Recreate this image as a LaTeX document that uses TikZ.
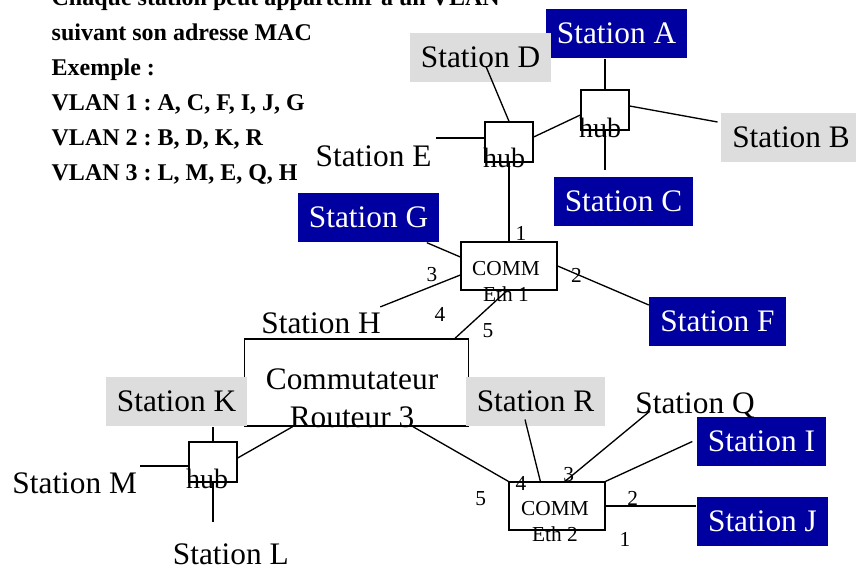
\documentclass[tikz,border=0pt]{standalone}
\usepackage{fontspec}
\setmainfont{Liberation Serif}
\usetikzlibrary{calc}
\definecolor{vlanblue}{RGB}{0,0,160}
\definecolor{vlangray}{RGB}{221,221,221}

\begin{document}
\frenchspacing
\begin{tikzpicture}[x=0.75pt, y=-0.75pt, line width=1pt,
  stablue/.style={fill=vlanblue, text=white, inner xsep=8.25pt, minimum height=36.75pt, font=\fontsize{23.5}{28}\selectfont},
  stagray/.style={fill=vlangray, inner xsep=8.25pt, minimum height=36.75pt, font=\fontsize{23.5}{28}\selectfont},
  staplain/.style={inner sep=0pt, anchor=base, font=\fontsize{23.5}{28}\selectfont},
  hubbox/.style={draw, fill=white, minimum width=36pt, minimum height=30pt, inner sep=0pt},
  hubtxt/.style={inner sep=0pt, font=\fontsize{21}{25}\selectfont},
  commbox/.style={draw, fill=white, minimum width=72pt, minimum height=36pt, inner sep=0pt},
  commtxt/.style={inner sep=0pt, align=center, font=\fontsize{16}{19.3}\selectfont},
  port/.style={inner sep=0pt, font=\fontsize{16}{19}\selectfont}]
  \useasboundingbox (0,0) rectangle (856,569);
  \clip (0,0) rectangle (856,569);

  % 说明文字
  \node[anchor=north west, align=left, inner sep=0pt, font=\bfseries\fontsize{18}{26.25}\selectfont\frenchspacing] (legend) at (51,-11.5)
    {Chaque station peut appartenir à un VLAN\\suivant son adresse MAC\\Exemple :\\VLAN 1 : A, C, F, I, J, G\\VLAN 2 : B, D, K, R\\VLAN 3 : L, M, E, Q, H};

  % 路由交换机
  \node[draw, fill=white, minimum width=168pt, minimum height=65.25pt, inner sep=0pt] (rout) at (356.3,382.5) {};

  % 各站点
  \node[stablue] (staA) at (616.5,33.5) {Station A};
  \node[stagray] (staB) at (791,137.5) {Station B};
  \node[stablue] (staC) at (623.5,201.5) {Station C};
  \node[stagray] (staD) at (480.5,57.5) {Station D};
  \node[staplain] (staE) at (373.5,166.7) {Station E};
  \node[stablue] (staF) at (717.5,321.5) {Station F};
  \node[stablue] (staG) at (368.5,217.5) {Station G};
  \node[staplain] (staH) at (321,333.3) {Station H};
  \node[stablue] (staI) at (761.5,441.5) {Station I};
  \node[stablue] (staJ) at (762.5,521.5) {Station J};
  \node[stagray] (staK) at (176.5,401.5) {Station K};
  \node[staplain] (staL) at (230.8,564) {Station L};
  \node[staplain] (staM) at (74.7,493.3) {Station M};
  \node[staplain] (staQ) at (695,413.3) {Station Q};
  \node[stagray] (staR) at (535.5,401.5) {Station R};

  % 集线器与交换机
  \node[hubbox] (hubL) at (509,142) {};
  \node[hubbox] (hubR) at (605,110) {};
  \node[hubbox] (hubM) at (213,462) {};
  \node[commbox] (sw1) at (509,266) {};
  \node[commbox] (sw2) at (557,506) {};

  % 上方两个集线器
  \draw (hubR.north) -- (hubR.north |- staA.south);
  \draw ($(hubR.east)+(0,-4)$) -- ($(staB.west)+(-3,-15.5)$);
  \draw (hubR.south) -- ($(hubR.south |- staC.north)+(0,-6)$);
  \draw ($(hubL.east)+(0,-5)$) -- ($(hubR.west)+(0,5)$);
  \draw ($(staD.center)+(5.5,9)$) -- (hubL.north);
  \draw ($(hubL.west)+(0,-4)$) -- ($(staE.east |- hubL.west)+(4,-4)$);
  \draw (hubL.south) -- (sw1.north);

  % COMM Eth 1
  \draw ($(staG.south east)+(-13,0)$) -- ($(sw1.west)+(0,-9)$);
  \draw ($(sw1.west)+(0,9)$) -- ($(staH.north east)+(-1,-5)$);
  \draw (sw1.east) -- ($(staF.west)+(0,-16.5)$);
  \draw ($(sw1.south)+(-2,0)$) -- ($(rout.north east)+(-14,0)$);

  % 左下集线器
  \draw (hubM.north) -- (hubM.north |- staK.south);
  \draw ($(hubM.west)+(0,4)$) -- ($(staM.east |- hubM.west)+(2,4)$);
  \draw (hubM.south) -- ($(hubM.south |- staL.north)+(0,-21)$);
  \draw ($(hubM.east)+(0,-4)$) -- ($(rout.south west)+(49,0)$);

  % COMM Eth 2
  \draw ($(rout.south east)+(-56,0)$) -- (sw2.north west);
  \draw ($(staR.center)+(-10.5,18)$) -- ($(sw2.north west)+(32,0)$);
  \draw ($(staQ.base west)+(15,-2)$) -- ($(sw2.north)+(8,0)$);
  \draw (sw2.north east) -- ($(staI.west)+(-4,0)$);
  \draw (sw2.east) -- (sw2.east -| staJ.west);

  % 文字标注
  \node[hubtxt] at ($(hubL)+(-5,16)$) {hub};
  \node[hubtxt] at ($(hubR)+(-5,18)$) {hub};
  \node[hubtxt] at ($(hubM)+(-6,17)$) {hub};
  \node[commtxt] at ($(sw1)+(-3,15.6)$) {COMM\\Eth 1};
  \node[commtxt] at ($(sw2)+(-2,15.5)$) {COMM\\Eth 2};
  \node[align=center, inner sep=0pt, font=\fontsize{23.5}{28.5}\selectfont] at (352,398.4) {Commutateur\\Routeur 3};

  % 端口编号
  \node[port] at (521,233.7) {1};
  \node[port] at (576.5,275) {2};
  \node[port] at (432,274.7) {3};
  \node[port] at (440,314) {4};
  \node[port] at (488,330.7) {5};
  \node[port] at (625,539) {1};
  \node[port] at (632.7,498.5) {2};
  \node[port] at (568.7,474.5) {3};
  \node[port] at (521,483) {4};
  \node[port] at (480.7,499) {5};
\end{tikzpicture}
\end{document}
